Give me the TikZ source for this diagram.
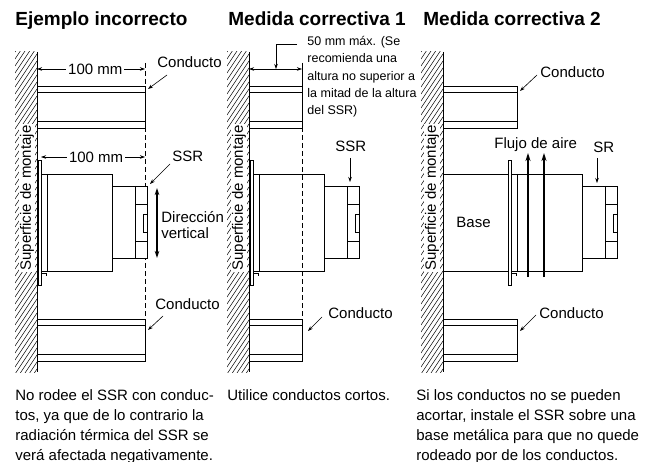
\documentclass[tikz,border=0pt]{standalone}
\usepackage{fontspec}
\setmainfont{Liberation Sans}
\usetikzlibrary{arrows.meta}
\tikzset{
  ttl/.style={font=\bfseries\fontsize{19}{22}\selectfont, inner sep=0pt, anchor=base west},
  lbl/.style={font=\fontsize{15}{16}\selectfont, inner sep=0pt, anchor=base west},
  captxt/.style={font=\fontsize{15}{20}\selectfont, inner sep=0pt, anchor=north west, align=left},
  note/.style={font=\fontsize{12.5}{17.2}\selectfont, inner sep=0pt, anchor=north west, align=left},
  surf/.style={font=\fontsize{15}{16}\selectfont, rotate=90, fill=white, inner sep=1pt},
  dimtxt/.style={font=\fontsize{15}{16}\selectfont, fill=white, inner sep=2pt},
  lead/.style={-{Stealth[length=5pt,width=3.5pt]}, line width=0.6pt},
  dimarr/.style={{Stealth[length=5pt,width=3.5pt]}-{Stealth[length=5pt,width=3.5pt]}, line width=0.6pt},
  vert/.style={{Stealth[length=7pt,width=4.5pt]}-{Stealth[length=7pt,width=4.5pt]}, line width=1.2pt},
  flow/.style={-{Stealth[length=8pt,width=5pt]}, line width=1.6pt},
  guide/.style={dash pattern=on 5pt off 3pt, line width=0.6pt}
}
\def\wall(#1){%
  \begin{scope}
    \clip (#1-22,52) rectangle (#1,372);
    \foreach \k in {0,...,51} \draw[line width=0.5pt] (#1-22,52+7*\k) -- ++(22,-33);
  \end{scope}
}
\def\duct(#1,#2,#3){\draw[fill=white] (#1,#3) rectangle (#2,#3+42); \draw (#1,#3+6) -- (#2,#3+6); \draw (#1,#3+35) -- (#2,#3+35);}
\def\ssr(#1){%
  \draw[fill=white] (#1,160) rectangle (#1+3,285);
  \draw[fill=white] (#1+3,174) rectangle (#1+74,271);
  \draw (#1+9,174) -- (#1+9,271);
  \draw[fill=white] (#1+74,186) rectangle (#1+109,258);
  \draw (#1+97,186) -- (#1+97,258);
  \draw (#1+97,204) -- (#1+109,204);
  \draw (#1+97,241) -- (#1+109,241);
  \draw (#1+105,214) rectangle (#1+109,232);
  \draw (#1+3,273) -- (#1+8,273) -- (#1+8,276);
}

\begin{document}
\begin{tikzpicture}[x=1pt,y=-1pt,line width=0.8pt]
			%%%%% START %%%%%
			\useasboundingbox (0,0) rectangle (658,462);
			
			\node[ttl] (t1) at (15,26) {Ejemplo incorrecto};
			\node[ttl] (t2) at (228,26) {Medida correctiva 1};
			\node[ttl] (t3) at (423,26) {Medida correctiva 2};
			
			%%%%% EJEMPLO INCORRECTO %%%%%
			\wall(37)
			\node[surf] (lsurf) at (27,198) {Superficie de montaje};
			\draw[line width=0.9pt] (37,52) -- (37,372);
			\draw[guide] (145,63) -- (145,319);
			\duct(37,145,86)
			\duct(37,145,319)
			\ssr(38)
			
			\coordinate (ld1a) at (37,69);
			\coordinate (ld1b) at (145,69);
			\draw[dimarr] (ld1a) -- node[dimtxt, pos=0.54] (ld1t) {100 mm} (ld1b);
			\coordinate (ld2a) at (41,157);
			\coordinate (ld2b) at (145,157);
			\draw[dimarr] (ld2a) -- node[dimtxt, pos=0.53] (ld2t) {100 mm} (ld2b);
			
			\node[lbl] (lcond1) at (157,68) {Conducto};
			\coordinate (lduct1) at (148,89);
			\draw[lead] (167,75) -- (lduct1);
			\node[lbl] (lssr) at (172,162) {SSR};
			\coordinate (lssrp) at (150,184);
			\draw[lead] (170,164) -- (lssrp);
			\coordinate (lvt) at (157,188);
			\coordinate (lvb) at (157,258);
			\draw[vert] (lvt) -- (lvb);
			\node[lbl, anchor=west, align=left, font=\fontsize{15}{15.5}\selectfont] (ldir) at (161,225) {Dirección\\vertical};
			\node[lbl] (lcond2) at (155,309) {Conducto};
			\coordinate (lduct2) at (148,330);
			\draw[lead] (163,316) -- (lduct2);
			
			%%%%% MEDIDA CORRECTIVA 1 %%%%%
			\wall(249)
			\node[surf] (msurf) at (239,198) {Superficie de montaje};
			\draw[line width=0.9pt] (249,52) -- (249,372);
			\duct(249,302,86)
			\duct(249,302,319)
			\ssr(250)
			\draw[guide] (302,63) -- (302,319);
			
			\coordinate (mda) at (249,69);
			\coordinate (mdb) at (302,69);
			\draw[dimarr] (mda) -- (mdb);
			\draw (302,63) -- (302,86);
			\node[note] (mnote) at (307,36) {50 mm máx. (Se\\recomienda una\\altura no superior a\\la mitad de la altura\\del SSR)};
			\coordinate (mnl) at (297,44);
			\coordinate (mdm) at (276,69);
			\draw[lead] (mnl) -| (mdm);
			
			\node[lbl] (mssr) at (335,152) {SSR};
			\coordinate (mssrp) at (350,182);
			\draw[lead] (350,158) -- (mssrp);
			\node[lbl] (mcond) at (328,318) {Conducto};
			\coordinate (mduct) at (308,331);
			\draw[lead] (322,317) -- (mduct);
			
			%%%%% MEDIDA CORRECTIVA 2 %%%%%
			\wall(443)
			\node[surf] (rsurf) at (432,198) {Superficie de montaje};
			\draw[line width=0.9pt] (443,52) -- (443,372);
			\duct(443,517,86)
			\duct(443,517,319)
			\draw[fill=white] (443,174) rectangle (508,271);
			\ssr(508)
			\node[lbl] (rbase) at (456,228) {Base};
			
			\coordinate (rf1a) at (528,277);
			\coordinate (rf1b) at (528,153);
			\coordinate (rf2a) at (544,277);
			\coordinate (rf2b) at (544,153);
			\draw[flow] (rf1a) -- (rf1b);
			\draw[flow] (rf2a) -- (rf2b);
			\node[lbl] (rflow) at (494,149) {Flujo de aire};
			
			\node[lbl] (rcond1) at (540,78) {Conducto};
			\coordinate (rduct1) at (520,91);
			\draw[lead] (537,75) -- (rduct1);
			\node[lbl] (rsr) at (593,153) {SR};
			\coordinate (rsrp) at (597,183);
			\draw[lead] (597,158) -- (rsrp);
			\node[lbl] (rcond2) at (539,318) {Conducto};
			\coordinate (rduct2) at (520,331);
			\draw[lead] (536,315) -- (rduct2);
			
			%%%%% TEXTOS %%%%%
			\node[captxt] (c1) at (15,389) {No rodee el SSR con conduc-\\tos, ya que de lo contrario la\\radiación térmica del SSR se\\verá afectada negativamente.};
			\node[captxt] (c2) at (227,389) {Utilice conductos cortos.};
			\node[captxt] (c3) at (416,389) {Si los conductos no se pueden\\acortar, instale el SSR sobre una\\base metálica para que no quede\\rodeado por de los conductos.};
			
			%%%%% END %%%%%
		\end{tikzpicture}
\end{document}
